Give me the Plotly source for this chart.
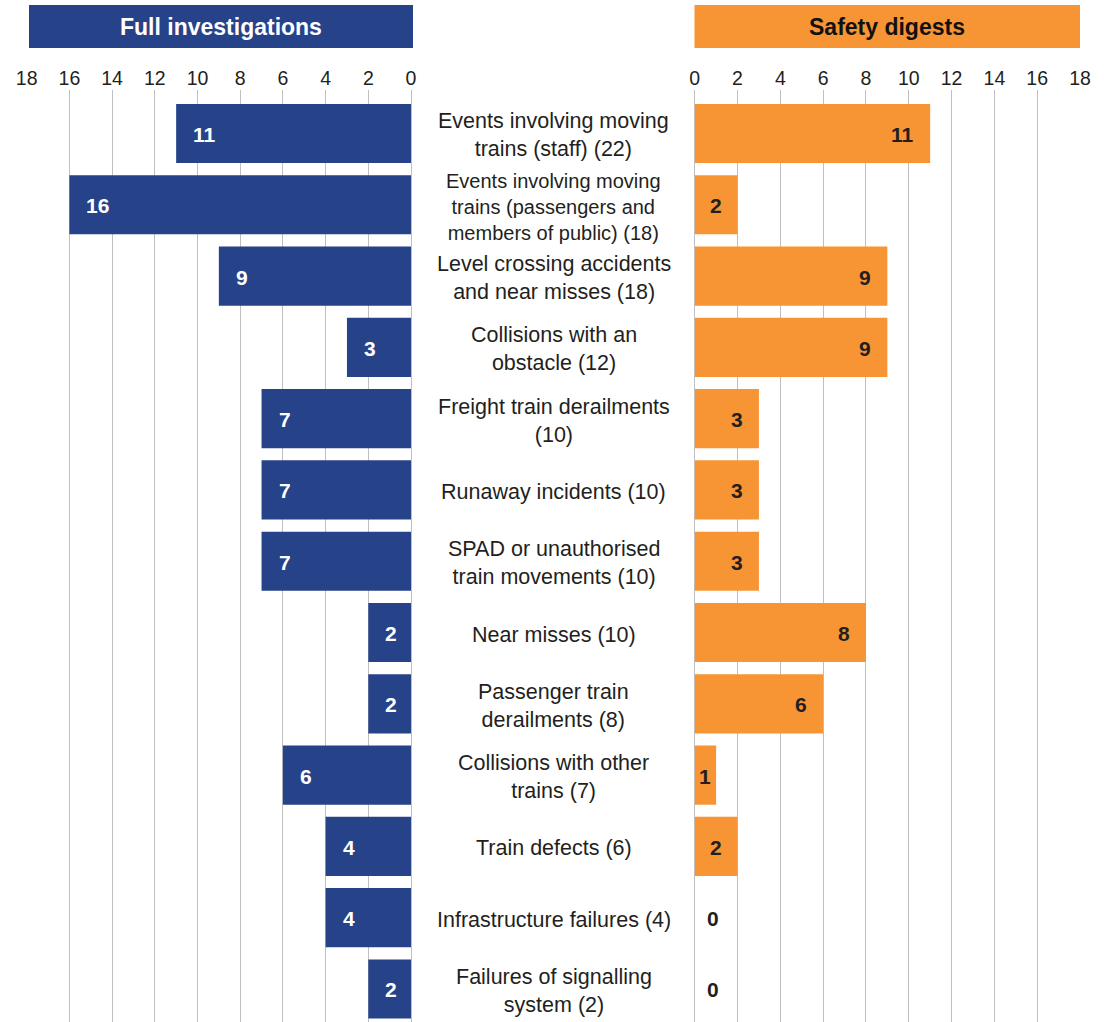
import plotly.graph_objects as go

# ---- data ----
categories = [
    "Events involving moving<br>trains (staff) (22)",
    "Events involving moving<br>trains (passengers and<br>members of public) (18)",
    "Level crossing accidents<br>and near misses (18)",
    "Collisions with an<br>obstacle (12)",
    "Freight train derailments<br>(10)",
    "Runaway incidents (10)",
    "SPAD or unauthorised<br>train movements (10)",
    "Near misses (10)",
    "Passenger train<br>derailments (8)",
    "Collisions with other<br>trains (7)",
    "Train defects (6)",
    "Infrastructure failures (4)",
    "Failures of signalling<br>system (2)",
]
full_investigations = [11, 16, 9, 3, 7, 7, 7, 2, 2, 6, 4, 4, 2]
safety_digests = [11, 2, 9, 9, 3, 3, 3, 8, 6, 1, 2, 0, 0]
tick_values = [0, 2, 4, 6, 8, 10, 12, 14, 16, 18]
panel_titles = ["Full investigations", "Safety digests"]

# ---- style ----
W, H = 1104, 1022
TOP = 90
BLUE = "#264389"
ORANGE = "#F79433"
GRID = "#bfbfbf"
TEXT = "#231f20"
FONT = "Liberation Sans, Arial, sans-serif"

def px_x(p):
    return p / W

def px_y(p):
    return (H - p) / (H - TOP)

ypos = list(range(len(categories)))

fig = go.Figure()
fig.add_trace(go.Bar(
    x=full_investigations, y=ypos, orientation="h", xaxis="x", yaxis="y",
    marker=dict(color=BLUE, line=dict(width=0)), width=0.83, hoverinfo="skip",
))
fig.add_trace(go.Bar(
    x=safety_digests, y=ypos, orientation="h", xaxis="x2", yaxis="y",
    marker=dict(color=ORANGE, line=dict(width=0)), width=0.83, hoverinfo="skip",
))

annotations = []
# value labels, left
for i, v in enumerate(full_investigations):
    annotations.append(dict(
        x=v, y=i, xref="x", yref="y", text=str(v), showarrow=False,
        xanchor="left", xshift=15, yshift=-1,
        font=dict(family=FONT, size=21, color="white", weight="bold"),
    ))
# value labels, right
for i, v in enumerate(safety_digests):
    if v == 0:
        ax, xa, xs = 0, "left", 10
    elif v * 21.4 < 36:
        ax, xa, xs = v / 2, "center", 0
    else:
        ax, xa, xs = v, "right", -14
    annotations.append(dict(
        x=ax, y=i, xref="x2", yref="y", text=str(v), showarrow=False,
        xanchor=xa, xshift=xs, yshift=-1,
        font=dict(family=FONT, size=21, color=TEXT, weight="bold"),
    ))
# category labels
for i, c in enumerate(categories):
    nlines = c.count("<br>") + 1
    annotations.append(dict(
        x=px_x(553.5), y=i, xref="paper", yref="y", text=c, showarrow=False,
        xanchor="center", yanchor="middle", align="center", yshift=-2,
        font=dict(family=FONT, size=20 if nlines >= 3 else 21.5, color=TEXT),
    ))
# panel titles
annotations.append(dict(
    x=px_x(221), y=px_y(27), xref="paper", yref="paper", text=panel_titles[0],
    showarrow=False, xanchor="center", yanchor="middle",
    font=dict(family=FONT, size=23, color="white", weight="bold"),
))
annotations.append(dict(
    x=px_x(887), y=px_y(27), xref="paper", yref="paper", text=panel_titles[1],
    showarrow=False, xanchor="center", yanchor="middle",
    font=dict(family=FONT, size=23, color="#111111", weight="bold"),
))

shapes = [
    dict(type="rect", xref="paper", yref="paper", x0=px_x(29), x1=px_x(413),
         y0=px_y(48), y1=px_y(5), fillcolor=BLUE, line=dict(width=0), layer="below"),
    dict(type="rect", xref="paper", yref="paper", x0=px_x(694.5), x1=px_x(1080),
         y0=px_y(48), y1=px_y(5), fillcolor=ORANGE, line=dict(width=0), layer="below"),
]

axis_common = dict(
    tickvals=tick_values, ticktext=[str(t) for t in tick_values],
    showgrid=True, gridcolor=GRID, gridwidth=1.3,
    zeroline=True, zerolinecolor=GRID, zerolinewidth=1.3,
    showline=False, ticks="", side="top", anchor="y",
    tickfont=dict(family=FONT, size=19.5, color=TEXT),
    fixedrange=True, automargin=False,
)

fig.update_layout(
    width=W, height=H,
    margin=dict(l=0, r=0, t=TOP, b=0, pad=0, autoexpand=False),
    paper_bgcolor="white", plot_bgcolor="white",
    showlegend=False, barmode="overlay",
    xaxis=dict(domain=[px_x(26.7), px_x(411)], range=[18, 0], **axis_common),
    xaxis2=dict(domain=[px_x(694.7), px_x(1080)], range=[0, 18], **axis_common),
    yaxis=dict(range=[12.463, -0.61], visible=False, fixedrange=True),
    annotations=annotations,
    shapes=shapes,
)

fig.write_html(
    "out.html",
    config={"displayModeBar": False, "responsive": False},
    post_script="document.body.style.margin='0';document.body.style.padding='0';"
                "document.documentElement.style.overflow='hidden';",
)
